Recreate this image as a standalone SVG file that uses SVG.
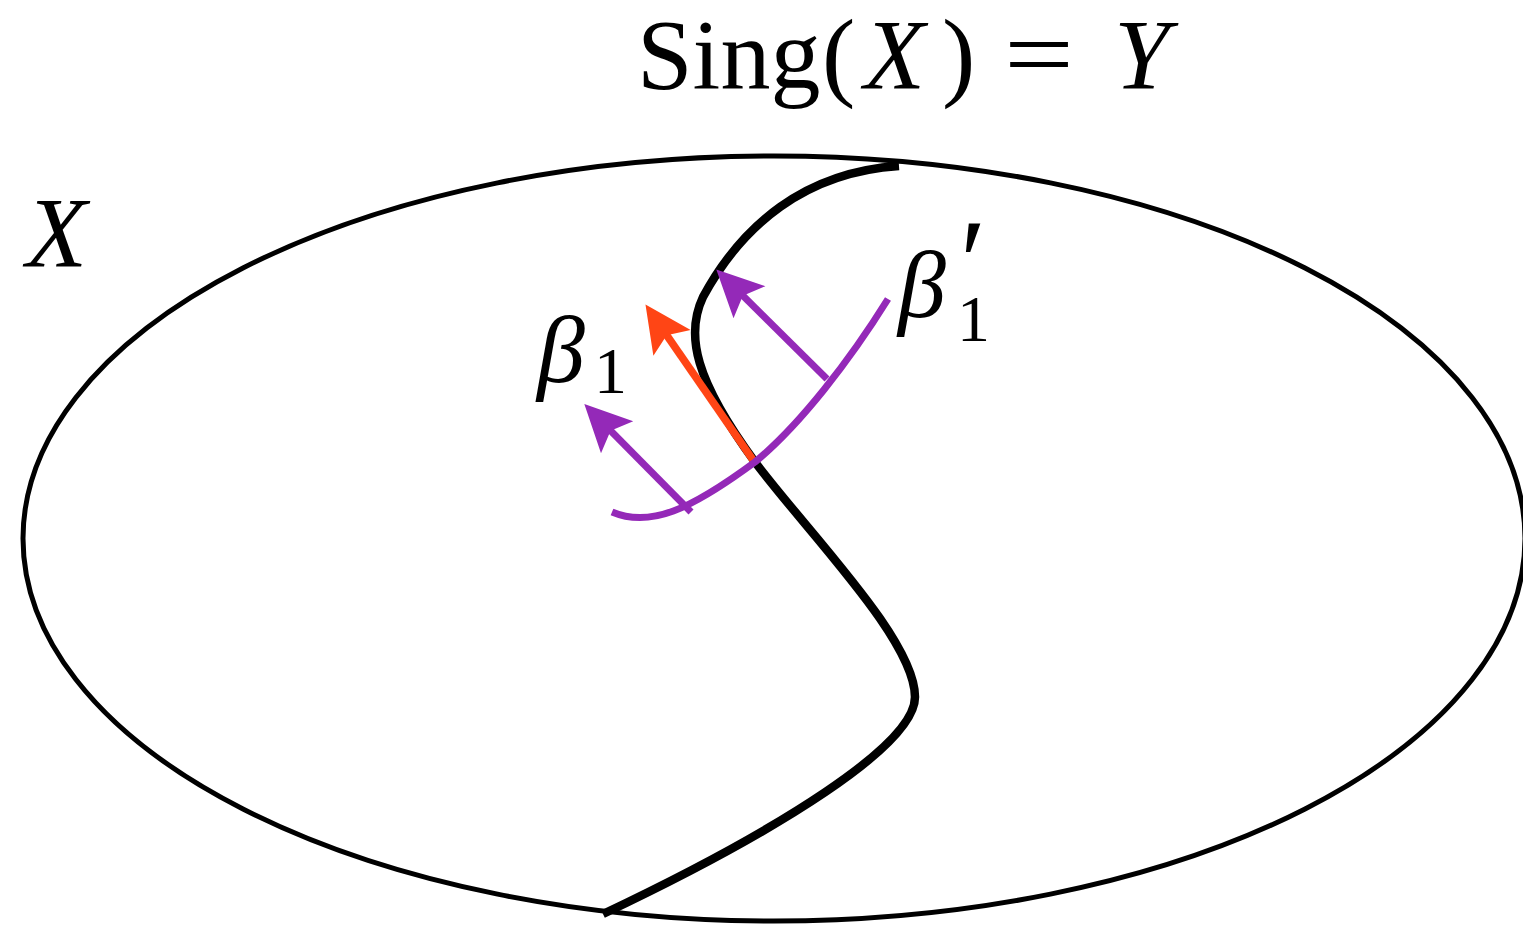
<svg xmlns="http://www.w3.org/2000/svg" width="1523" height="926" viewBox="0 0 1523 926">
<style>
.lbl{font-family:"Liberation Serif","DejaVu Serif",serif;fill:#000}
.it{font-style:italic}
.ln{fill:none;stroke-linecap:butt}
</style>
<defs>
<marker id="ahP" markerUnits="userSpaceOnUse" markerWidth="60" markerHeight="60" viewBox="-20 -20 45 40" refX="0" refY="0" orient="auto" overflow="visible">
<path d="M21,0 L-14,-17 L-7,0 L-14,17 Z" fill="#9429b8"/>
</marker>
<marker id="ahR" markerUnits="userSpaceOnUse" markerWidth="60" markerHeight="60" viewBox="-20 -20 45 40" refX="0" refY="0" orient="auto" overflow="visible">
<path d="M21,0 L-14,-17 L-7,0 L-14,17 Z" fill="#ff4515"/>
</marker>
</defs>
<rect width="1523" height="926" fill="#fff"/>
<g id="space-X">
<ellipse cx="774" cy="538.5" rx="751" ry="382.5" fill="none" stroke="#000" stroke-width="5"/>
</g>
<g id="sing-Y">
<path class="ln" d="M 899 166 C 805 172, 742 225, 703 297 C 685 335, 695 380, 755 462 C 810 535, 915 640, 915 697 C 915 745, 780 830, 603 914" stroke="#000" stroke-width="8.5"/>
</g>
<g id="connectors">
<path id="red-arrow" class="ln" d="M 753 460 L 661.4 327.5" stroke="#ff4515" stroke-width="7.5" marker-end="url(#ahR)"/>
<path id="beta1-curve" class="ln" d="M 612 512 C 650 528, 690 510, 755 462 C 800 425, 850 360, 888 299" stroke="#9429b8" stroke-width="7"/>
<path id="beta1-arrow" class="ln" d="M 691 512 L 604 424" stroke="#9429b8" stroke-width="7" marker-end="url(#ahP)"/>
<path id="beta1p-arrow" class="ln" d="M 827 379 L 736.2 289.1" stroke="#9429b8" stroke-width="7" marker-end="url(#ahP)"/>
</g>
<g id="title">
<text class="lbl" y="88" font-size="100"><tspan x="637">Sing</tspan><tspan x="822">(</tspan><tspan class="it" x="864">X</tspan><tspan x="942">)</tspan><tspan x="1004" textLength="70" lengthAdjust="spacingAndGlyphs">=</tspan><tspan class="it" x="1114">Y</tspan></text>
</g>
<g id="label-X">
<text class="lbl it" x="26" y="266" font-size="100">X</text>
</g>
<g id="label-beta1">
<text class="lbl it" x="537" y="382" font-size="96">β</text>
<text class="lbl" x="594" y="393" font-size="66">1</text>
</g>
<g id="label-beta1p">
<text class="lbl it" x="898" y="317" font-size="96">β</text>
<text class="lbl" x="960" y="303" font-size="120">′</text>
<text class="lbl" x="957" y="341" font-size="66">1</text>
</g>
</svg>
